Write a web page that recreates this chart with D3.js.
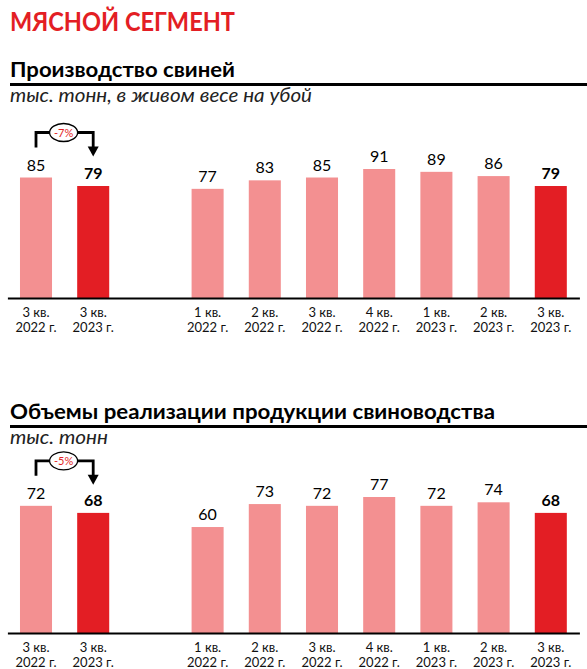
<!DOCTYPE html>
<html>
<head>
<meta charset="utf-8">
<script src="https://cdn.jsdelivr.net/npm/d3@7.9.0/dist/d3.min.js"></script>
<style>
  html, body { margin: 0; padding: 0; background: #fff; }
  svg { display: block; font-family: Lato, "Open Sans", sans-serif; }
</style>
</head>
<body>
<div id="chart"></div>
<script>
// slots: two compared quarters, one empty spacer, then seven quarters
const slotKeys = ["cmp0", "cmp1", "gap", "q0", "q1", "q2", "q3", "q4", "q5", "q6"];
const barSlots = ["cmp0", "cmp1", "q0", "q1", "q2", "q3", "q4", "q5", "q6"];
const quarterLabels = ["3 кв.", "3 кв.", "1 кв.", "2 кв.", "3 кв.", "4 кв.", "1 кв.", "2 кв.", "3 кв."];
const yearLabels = ["2022 г.", "2023 г.", "2022 г.", "2022 г.", "2022 г.", "2022 г.", "2023 г.", "2023 г.", "2023 г."];
const highlighted = [1, 8];

const pigProduction = [85, 79, 77, 83, 85, 91, 89, 86, 79];
const pigSales = [72, 68, 60, 73, 72, 77, 72, 74, 68];
const productionChange = "-7%";
const salesChange = "-5%";

const width = 587;
const height = 669;
const red = "#e31e24";
const pink = "#f39091";

const svg = d3.select("#chart")
  .append("svg")
  .attr("width", width)
  .attr("height", height)
  .attr("viewBox", `0 0 ${width} ${height}`);

svg.append("text")
  .attr("x", 10)
  .attr("y", 31)
  .attr("fill", red)
  .attr("font-size", 26)
  .attr("font-weight", 700)
  .attr("textLength", 225)
  .attr("lengthAdjust", "spacingAndGlyphs")
  .text("МЯСНОЙ СЕГМЕНТ");

const xScale = d3.scaleBand()
  .domain(slotKeys)
  .range([7.4, 579.4])
  .paddingInner(0.44)
  .paddingOuter(0.22);

function renderChart({ title, titleWidth, subtitle, subtitleWidth, titleY, values, change, baseY, maxHeight }) {
  const g = svg.append("g");

  g.append("text")
    .attr("x", 10)
    .attr("y", titleY)
    .attr("font-size", 21)
    .attr("font-weight", 700)
    .attr("fill", "#000")
    .attr("textLength", titleWidth)
    .attr("lengthAdjust", "spacingAndGlyphs")
    .text(title);

  g.append("line")
    .attr("x1", 10)
    .attr("x2", width)
    .attr("y1", titleY + 7.5)
    .attr("y2", titleY + 7.5)
    .attr("stroke", "#000")
    .attr("stroke-width", 3);

  g.append("text")
    .attr("x", 10)
    .attr("y", titleY + 25)
    .attr("font-size", 19)
    .attr("font-style", "italic")
    .attr("fill", "#222")
    .attr("textLength", subtitleWidth)
    .attr("lengthAdjust", "spacingAndGlyphs")
    .text(subtitle);

  const yScale = d3.scaleLinear()
    .domain([0, d3.max(values)])
    .range([baseY, baseY - maxHeight]);

  const bars = values.map((v, i) => ({
    key: barSlots[i],
    value: v,
    quarter: quarterLabels[i],
    year: yearLabels[i],
    current: highlighted.includes(i),
  }));

  g.append("g")
    .selectAll("rect")
    .data(bars)
    .join("rect")
    .attr("x", (d) => xScale(d.key))
    .attr("y", (d) => yScale(d.value))
    .attr("width", xScale.bandwidth())
    .attr("height", (d) => baseY - yScale(d.value))
    .attr("fill", (d) => (d.current ? red : pink));

  g.append("g")
    .selectAll("text")
    .data(bars)
    .join("text")
    .attr("x", (d) => xScale(d.key) + xScale.bandwidth() / 2)
    .attr("y", (d) => yScale(d.value) - 7)
    .attr("text-anchor", "middle")
    .attr("font-size", 16)
    .attr("font-weight", (d) => (d.current ? 700 : 400))
    .attr("fill", "#000")
    .text((d) => d.value);

  const axis = d3.axisBottom(xScale)
    .tickValues(barSlots)
    .tickSize(0)
    .tickFormat("");

  const axisG = g.append("g")
    .attr("transform", `translate(0, ${baseY})`)
    .call(axis);
  axisG.select(".domain").attr("stroke", "#000").attr("stroke-width", 2);

  const labels = g.append("g")
    .selectAll("text")
    .data(bars)
    .join("text")
    .attr("text-anchor", "middle")
    .attr("font-size", 13)
    .attr("fill", "#111");
  labels.append("tspan")
    .attr("x", (d) => xScale(d.key) + xScale.bandwidth() / 2)
    .attr("y", baseY + 19)
    .text((d) => d.quarter);
  labels.append("tspan")
    .attr("x", (d) => xScale(d.key) + xScale.bandwidth() / 2)
    .attr("y", baseY + 34)
    .text((d) => d.year);

  // change bracket between the two compared quarters
  const x0 = xScale("cmp0") + xScale.bandwidth() / 2;
  const x1 = xScale("cmp1") + xScale.bandwidth() / 2;
  const labelBase = yScale(Math.max(values[0], values[1])) - 7;
  const top = labelBase - 38;
  const tip = labelBase - 14;

  g.append("path")
    .attr("d", `M${x0},${labelBase - 23} V${top} H${x1} V${tip - 9}`)
    .attr("fill", "none")
    .attr("stroke", "#000")
    .attr("stroke-width", 2.8);

  g.append("path")
    .attr("d", `M${x1 - 5.5},${tip - 10} L${x1 + 5.5},${tip - 10} L${x1},${tip} Z`)
    .attr("fill", "#000");

  const cx = (x0 + x1) / 2 - 1;
  g.append("ellipse")
    .attr("cx", cx)
    .attr("cy", top)
    .attr("rx", 14)
    .attr("ry", 9)
    .attr("fill", "#fff")
    .attr("stroke", "#000")
    .attr("stroke-width", 1.3);

  g.append("text")
    .attr("x", cx)
    .attr("y", top + 4)
    .attr("text-anchor", "middle")
    .attr("font-size", 11)
    .attr("fill", red)
    .text(change);
}

renderChart({
  title: "Производство свиней",
  titleWidth: 225,
  subtitle: "тыс. тонн, в живом весе на убой",
  subtitleWidth: 302,
  titleY: 77,
  values: pigProduction,
  change: productionChange,
  baseY: 298,
  maxHeight: 129,
});

renderChart({
  title: "Объемы реализации продукции свиноводства",
  titleWidth: 485,
  subtitle: "тыс. тонн",
  subtitleWidth: 98,
  titleY: 419,
  values: pigSales,
  change: salesChange,
  baseY: 633,
  maxHeight: 136,
});
</script>
</body>
</html>
